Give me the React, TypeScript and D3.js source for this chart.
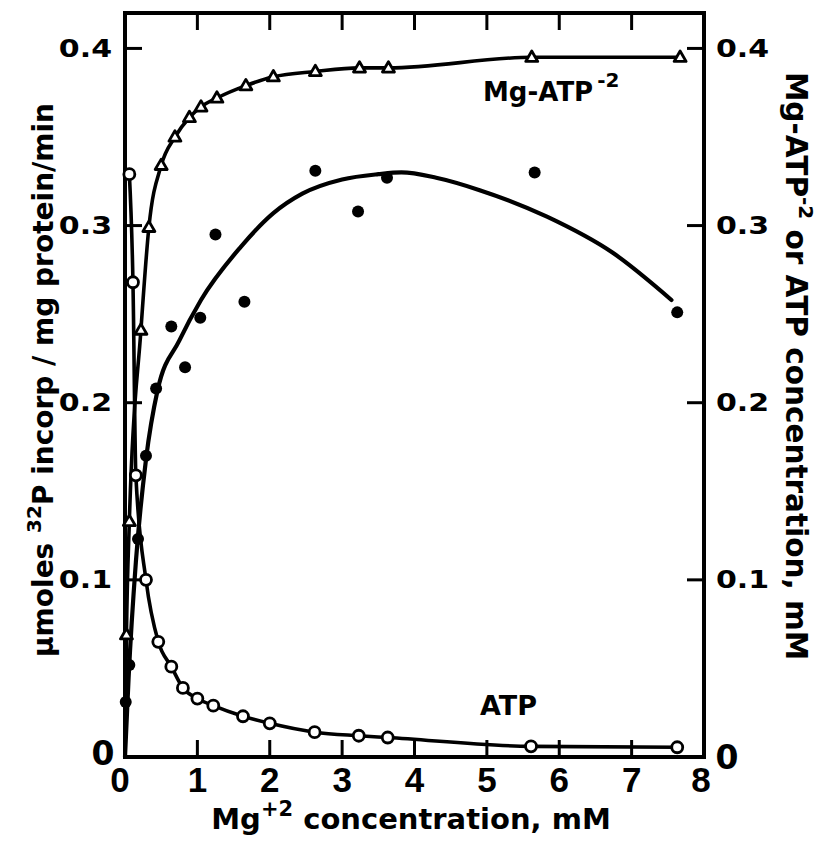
import React from "react";
import * as d3 from "d3";

// Mg-ATP(-2) concentration (open triangles), mM
const mgAtpX = [0.02, 0.06, 0.22, 0.33, 0.5, 0.69, 0.89, 1.05, 1.27, 1.67, 2.05, 2.63, 3.24, 3.64, 5.62, 7.67];
const mgAtpY = [0.069, 0.133, 0.241, 0.299, 0.334, 0.35, 0.361, 0.367, 0.372, 0.379, 0.384, 0.387, 0.389, 0.389, 0.395, 0.395];
// line of Mg-ATP starts at the origin
const mgAtpStartX = [0];
const mgAtpStartY = [0];

// free ATP concentration (open circles), mM
const atpX = [0.06, 0.11, 0.15, 0.29, 0.46, 0.64, 0.8, 1.0, 1.22, 1.63, 2.0, 2.62, 3.23, 3.63, 5.61, 7.63];
const atpY = [0.329, 0.268, 0.159, 0.1, 0.065, 0.051, 0.039, 0.033, 0.029, 0.023, 0.019, 0.014, 0.012, 0.011, 0.006, 0.0055];

// 32P incorporation (filled circles), umoles/mg protein/min
const actX = [0.01, 0.06, 0.18, 0.29, 0.43, 0.64, 0.83, 1.04, 1.25, 1.65, 2.63, 3.22, 3.62, 5.66, 7.63];
const actY = [0.031, 0.052, 0.123, 0.17, 0.208, 0.243, 0.22, 0.248, 0.295, 0.257, 0.331, 0.308, 0.327, 0.33, 0.251];

// hand-drawn smooth curve through the activity data
const fitX = [0, 0.05, 0.15, 0.29, 0.45, 0.75, 1.05, 1.6, 2.05, 2.45, 3.0, 3.5, 3.82, 4.3, 4.9, 5.83, 6.74, 7.55];
const fitY = [0.0, 0.045, 0.11, 0.168, 0.207, 0.235, 0.258, 0.288, 0.307, 0.318, 0.326, 0.329, 0.33, 0.327, 0.32, 0.305, 0.2846, 0.258];

const xTickVals = [1, 2, 3, 4, 5, 6, 7];
const xTickLabels = ["0", "1", "2", "3", "4", "5", "6", "7", "8"];
const yTickVals = [0.1, 0.2, 0.3, 0.4];
const yTickLabels = ["0.1", "0.2", "0.3", "0.4"];

const W = 823;
const H = 848;

const x = d3.scaleLinear().domain([0, 8]).range([125, 704]);
const y = d3.scaleLinear().domain([0, 0.42]).range([757, 13]);

const toPts = (xs: number[], ys: number[]) => xs.map((v, i) => [v, ys[i]] as [number, number]);

const line = d3
  .line<[number, number]>()
  .x((d) => x(d[0]))
  .y((d) => y(d[1]))
  .curve(d3.curveMonotoneX);

const tri = (cx: number, cy: number, s: number) => {
  const h = s * 0.866;
  return `M${cx},${cy - h * 0.6}L${cx + s / 2},${cy + h * 0.4}L${cx - s / 2},${cy + h * 0.4}Z`;
};

const titleFont = "'DejaVu Sans', sans-serif";
const digitFont = "'Liberation Sans', Arial, sans-serif";

export default function App() {
  const x0 = x(0);
  const x8 = x(8);
  const yb = y(0);
  const yt = y(0.42);
  const tickLen = 17;
  return (
    <svg width={W} height={H} style={{ display: "block", position: "absolute", left: 0, top: 0, background: "#fff" }}>
      <rect x={0} y={0} width={W} height={H} fill="#fff" />
      {/* frame */}
      <g stroke="#000" strokeWidth={4} fill="none" strokeLinecap="square">
        <line x1={x0} y1={yt} x2={x8} y2={yt} />
        <line x1={x0} y1={yt} x2={x0} y2={yb} />
        <line x1={x0} y1={yb} x2={x8} y2={yb} />
        <line x1={x8} y1={yt} x2={x8} y2={yb} />
      </g>
      {/* ticks */}
      <g stroke="#000" strokeWidth={3}>
        {xTickVals.map((v) => (
          <g key={"xt" + v}>
            <line x1={x(v)} x2={x(v)} y1={yb} y2={yb - tickLen} />
            <line x1={x(v)} x2={x(v)} y1={yt} y2={yt + tickLen} />
          </g>
        ))}
        {yTickVals.map((v) => (
          <g key={"yt" + v}>
            <line x1={x0} x2={x0 + tickLen} y1={y(v)} y2={y(v)} />
            <line x1={x8} x2={x8 - tickLen} y1={y(v)} y2={y(v)} />
          </g>
        ))}
      </g>
      {/* curves */}
      <g fill="none" stroke="#000" strokeLinecap="round">
        <path d={line(toPts(fitX, fitY)) || ""} strokeWidth={4.2} />
        <path d={line([...toPts(mgAtpStartX, mgAtpStartY), ...toPts(mgAtpX, mgAtpY)]) || ""} strokeWidth={3.6} />
        <path d={line(toPts(atpX, atpY)) || ""} strokeWidth={3.6} />
      </g>
      {/* markers */}
      <g>
        {actX.map((v, i) => (
          <circle key={"a" + i} cx={x(v)} cy={y(actY[i])} r={6} fill="#000" />
        ))}
        {atpX.map((v, i) => (
          <circle key={"o" + i} cx={x(v)} cy={y(atpY[i])} r={5.5} fill="#fff" stroke="#000" strokeWidth={2.8} />
        ))}
        {mgAtpX.map((v, i) => (
          <path key={"t" + i} d={tri(x(v), y(mgAtpY[i]), 12)} fill="#fff" stroke="#000" strokeWidth={2.8} strokeLinejoin="round" />
        ))}
      </g>
      {/* x tick labels */}
      <g fontFamily={digitFont} fontWeight="bold" fontSize={35} textAnchor="middle" fill="#000">
        {xTickLabels.map((t, i) => (
          <text key={"xl" + i} x={x(i) + (i === 0 ? -5 : i === 8 ? -3 : 0)} y={792}>
            {t}
          </text>
        ))}
      </g>
      {/* y tick labels */}
      <g fontFamily={titleFont} fontWeight="bold" fontSize={24} fill="#000">
        {yTickVals.map((v, i) => (
          <g key={"yl" + i}>
            <text transform={`translate(112,${y(v)}) scale(1.25,1)`} textAnchor="end" dy="0.36em">
              {yTickLabels[i]}
            </text>
            <text transform={`translate(716,${y(v)}) scale(1.25,1)`} textAnchor="start" dy="0.36em">
              {yTickLabels[i]}
            </text>
          </g>
        ))}
        <text x={103} y={y(0) - 4} fontSize={33} textAnchor="middle" dy="0.36em">0</text>
        <text x={727} y={y(0)} fontSize={33} textAnchor="middle" dy="0.36em">0</text>
      </g>
      {/* series labels */}
      <g fontFamily={titleFont} fontWeight="bold" fill="#000">
        <text x={483} y={101} fontSize={26}>
          Mg-ATP
          <tspan fontSize={20} dy={-14} dx={4}>-2</tspan>
        </text>
        <text x={480} y={715} fontSize={27}>ATP</text>
      </g>
      {/* axis titles */}
      <g fontFamily={titleFont} fontWeight="bold" fill="#000">
        <text x={411} y={829} fontSize={29} textAnchor="middle">
          Mg<tspan fontSize={21} dy={-13}>+2</tspan>
          <tspan dy={13}> concentration, mM</tspan>
        </text>
        <text transform="translate(53,380) rotate(-90)" fontSize={28} textAnchor="middle">
          μmoles <tspan fontSize={20} dy={-12}>32</tspan>
          <tspan dy={12}>P incorp / mg protein/min</tspan>
        </text>
        <text transform="translate(786,366) rotate(90)" fontSize={29.5} textAnchor="middle">
          Mg-ATP<tspan fontSize={20} dy={-13}>-2</tspan>
          <tspan dy={13}> or ATP concentration, mM</tspan>
        </text>
      </g>
    </svg>
  );
}
